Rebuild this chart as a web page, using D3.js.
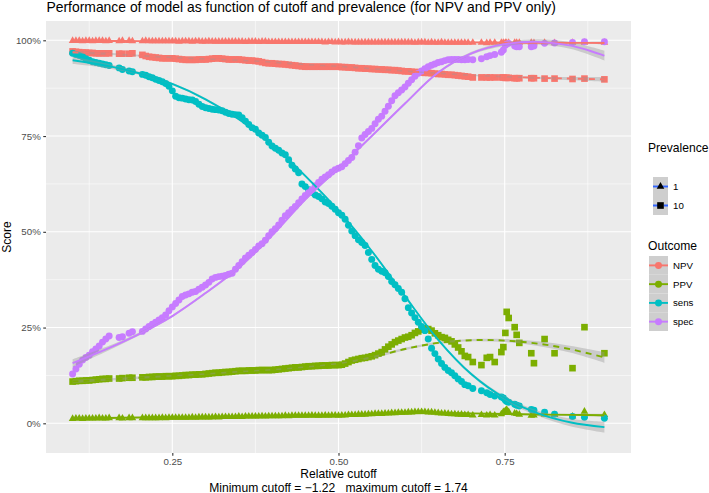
<!DOCTYPE html>
<html>
<head>
<meta charset="utf-8">
<script src="https://cdnjs.cloudflare.com/ajax/libs/d3/7.8.5/d3.min.js"></script>
<style>
body { margin: 0; background: #fff; }
svg { display: block; font-family: "Liberation Sans", Arial, sans-serif; }
</style>
</head>
<body>
<script>
// relative cutoffs shared by every series
var cutoffs = [
	0.100,0.105,0.110,0.115,0.120,0.125,0.130,0.135,0.140,0.145,
	0.150,0.155,0.170,0.175,0.185,0.190,0.205,0.210,0.215,0.220,
	0.225,0.230,0.235,0.240,0.245,0.250,0.255,0.260,0.265,0.270,
	0.275,0.280,0.285,0.290,0.295,0.300,0.305,0.310,0.315,0.320,
	0.325,0.330,0.335,0.340,0.345,0.350,0.355,0.360,0.365,0.370,
	0.375,0.380,0.385,0.390,0.395,0.400,0.405,0.410,0.415,0.420,
	0.425,0.430,0.435,0.440,0.445,0.450,0.455,0.460,0.465,0.470,
	0.475,0.480,0.485,0.490,0.495,0.500,0.505,0.510,0.515,0.520,
	0.525,0.530,0.535,0.540,0.545,0.550,0.555,0.560,0.565,0.570,
	0.575,0.580,0.585,0.590,0.595,0.600,0.605,0.610,0.615,0.620,
	0.625,0.630,0.635,0.640,0.645,0.650,0.655,0.660,0.665,0.670,
	0.675,0.680,0.685,0.690,
	0.695,0.702,0.715,0.723,0.728,0.735,0.745,0.748,0.751,0.753,
	0.756,0.765,0.768,0.772,0.790,0.794,0.810,0.825,0.852,0.870,
	0.900
];

// scores in percent
var npv1 = [
	99.9,99.9,99.9,99.8,99.9,99.9,99.8,99.9,99.9,99.9,
	99.8,99.9,99.8,99.9,99.9,99.8,99.8,99.9,99.8,99.8,
	99.8,99.8,99.8,99.8,99.8,99.8,99.8,99.7,99.8,99.8,
	99.8,99.7,99.8,99.8,99.7,99.7,99.8,99.7,99.7,99.7,
	99.7,99.7,99.7,99.7,99.7,99.7,99.7,99.6,99.7,99.7,
	99.7,99.6,99.7,99.7,99.6,99.6,99.6,99.6,99.6,99.6,
	99.6,99.6,99.6,99.6,99.6,99.6,99.6,99.6,99.6,99.6,
	99.6,99.5,99.6,99.6,99.5,99.6,99.5,99.5,99.6,99.5,
	99.5,99.5,99.5,99.5,99.5,99.5,99.5,99.5,99.5,99.5,
	99.5,99.5,99.5,99.5,99.5,99.5,99.5,99.5,99.4,99.5,
	99.5,99.5,99.4,99.5,99.4,99.4,99.5,99.4,99.4,99.4,
	99.4,99.4,99.4,99.4,
	99.4,99.4,99.4,99.3,99.4,99.4,99.4,99.4,99.4,99.3,
	99.4,99.4,99.4,99.4,99.4,99.3,99.4,99.3,99.4,99.4,
	99.4
];
var npv10 = [
	97.1,97.0,96.9,96.8,96.8,96.7,96.7,96.6,96.6,96.6,
	96.6,96.6,96.5,96.5,96.5,96.6,96.2,95.9,95.7,95.6,
	95.5,95.4,95.3,95.3,95.3,95.3,95.2,95.1,95.0,94.9,
	94.9,94.9,94.9,95.0,95.0,95.0,95.1,95.2,95.3,95.3,
	95.2,95.1,95.0,95.0,95.0,95.0,94.9,94.8,94.7,94.7,
	94.6,94.5,94.3,94.1,94.0,94.0,93.9,93.8,93.8,93.7,
	93.6,93.5,93.4,93.3,93.2,93.1,93.1,93.1,93.1,93.1,
	93.1,93.1,93.1,93.1,93.1,93.1,93.0,93.0,92.9,92.9,
	92.8,92.7,92.7,92.6,92.6,92.5,92.5,92.4,92.4,92.3,
	92.3,92.2,92.2,92.1,92.0,91.9,91.9,91.8,91.7,91.7,
	91.6,91.5,91.5,91.4,91.3,91.2,91.2,91.1,91.0,91.0,
	90.9,90.8,90.7,90.6,
	90.5,90.3,90.3,90.3,90.3,90.3,90.3,90.3,90.2,90.2,
	90.2,90.1,90.1,90.1,90.1,90.1,90.0,90.0,89.9,90.0,
	89.8
];
var ppv1 = [
	1.2,1.3,1.3,1.2,1.3,1.3,1.3,1.3,1.4,1.3,
	1.3,1.4,1.4,1.3,1.4,1.4,1.4,1.4,1.4,1.4,
	1.4,1.4,1.5,1.4,1.5,1.5,1.5,1.5,1.5,1.5,
	1.5,1.6,1.5,1.6,1.6,1.6,1.6,1.6,1.7,1.6,
	1.7,1.7,1.7,1.7,1.7,1.8,1.7,1.8,1.8,1.8,
	1.8,1.8,1.9,1.8,1.9,1.9,1.9,1.9,1.9,2.0,
	1.9,2.0,2.0,2.0,2.0,2.0,2.0,2.1,2.0,2.0,
	2.0,2.1,2.0,2.1,2.1,2.0,2.1,2.1,2.2,2.2,
	2.2,2.3,2.3,2.3,2.4,2.4,2.5,2.5,2.5,2.6,
	2.6,2.7,2.7,2.8,2.8,2.8,2.9,2.9,3.0,3.0,
	3.0,3.0,2.9,2.9,2.8,2.7,2.6,2.6,2.5,2.4,
	2.4,2.3,2.3,2.2,
	2.2,2.1,2.2,2.1,2.2,2.1,2.4,3.0,3.3,3.6,
	3.0,2.6,2.5,2.3,2.0,2.1,2.3,2.2,1.8,3.1,
	2.2
];
var ppv10 = [
	10.9,11.0,11.1,11.1,11.2,11.2,11.3,11.4,11.5,11.6,
	11.6,11.7,11.7,11.8,11.9,11.9,12.0,12.0,12.1,12.1,
	12.2,12.2,12.2,12.3,12.3,12.3,12.4,12.4,12.5,12.6,
	12.6,12.7,12.7,12.8,12.8,12.9,13.0,13.1,13.2,13.2,
	13.3,13.4,13.4,13.5,13.6,13.7,13.7,13.7,13.8,13.8,
	13.8,13.9,13.9,13.9,13.9,13.9,14.0,14.1,14.2,14.3,
	14.4,14.5,14.6,14.6,14.7,14.8,14.9,14.9,15.0,15.0,
	15.1,15.1,15.1,15.2,15.2,15.2,15.3,15.6,16.0,16.4,
	16.6,16.8,17.0,17.1,17.3,17.5,17.8,18.2,18.6,19.3,
	20.0,20.6,21.2,21.6,22.0,22.4,22.6,23.0,23.6,24.0,
	24.5,24.8,24.6,24.2,23.5,23.0,22.5,22.3,21.8,21.4,
	20.6,19.8,18.8,17.6,
	17.3,16.0,15.2,17.1,17.3,16.0,18.6,19.9,23.6,29.1,
	27.5,25.1,23.1,21.0,18.3,15.7,22.0,18.3,14.4,25.1,
	18.3
];
var sens = [
	96.6,96.3,96.0,95.7,95.2,94.8,94.4,94.2,94.0,93.8,
	93.6,93.4,92.8,92.4,92.0,91.8,91.1,90.9,90.5,90.2,
	89.8,89.5,89.2,88.7,88.0,86.8,85.4,85.0,84.9,84.7,
	84.5,84.4,84.0,83.3,82.7,82.4,82.2,82.0,81.9,81.8,
	81.6,81.2,80.9,80.7,80.6,80.5,79.8,78.9,78.0,77.2,
	76.8,75.8,75.2,74.6,73.4,72.4,71.8,71.3,70.6,70.1,
	68.8,67.4,66.4,65.4,62.5,61.8,61.0,60.3,59.6,59.2,
	58.6,57.8,57.4,56.7,55.9,55.0,54.3,53.3,51.7,50.2,
	49.0,47.9,47.2,46.4,44.6,42.8,41.2,40.2,39.7,39.3,
	38.3,37.0,36.2,35.2,34.2,32.5,30.2,28.8,27.6,26.4,
	25.3,24.2,22.0,19.6,18.2,16.8,15.6,14.6,13.8,13.2,
	12.4,11.6,10.9,10.1,
	9.8,9.1,8.5,8.0,7.5,7.1,6.9,6.6,6.0,5.7,
	5.5,5.0,4.7,4.5,3.6,3.4,2.9,2.4,1.8,1.6,
	1.3
];
var spec = [
	12.9,14.2,15.4,16.5,17.2,17.8,18.7,19.4,20.2,21.2,
	22.0,22.8,22.4,22.6,23.5,23.9,24.0,24.6,25.3,25.9,
	26.4,27.0,27.6,28.3,29.4,30.4,31.3,32.2,33.1,33.5,
	33.8,34.2,34.4,35.0,35.5,36.1,36.8,37.7,38.1,38.3,
	38.4,38.6,38.9,39.2,40.2,41.2,42.2,43.2,43.9,44.6,
	45.4,46.3,46.9,47.8,49.0,50.0,50.8,51.8,53.0,54.2,
	55.0,55.8,56.6,57.6,58.6,59.5,60.2,61.0,62.0,62.9,
	63.7,64.3,64.9,65.6,66.2,66.6,67.0,67.8,68.6,69.4,
	70.8,72.5,74.5,75.4,76.2,77.0,78.2,79.4,80.2,81.5,
	82.8,84.2,85.5,86.3,87.0,87.8,88.8,89.7,90.6,91.4,
	92.0,92.6,93.1,93.5,93.8,94.2,94.4,94.7,94.9,95.0,
	95.0,95.0,94.9,94.9,
	95.0,94.9,95.2,95.7,96.0,96.3,96.9,97.5,98.7,99.0,
	99.2,98.5,98.3,98.3,98.3,98.5,99.2,99.3,99.4,99.6,
	99.6
];

// smoothed fits (loess) and their standard error half widths, in percent
var fitCutoffs = [0.10,0.15,0.20,0.25,0.30,0.35,0.40,0.45,0.50,0.55,0.60,0.65,0.70,0.75,0.80,0.85,0.90];
var fitNpv1  = [99.85,99.82,99.79,99.76,99.73,99.70,99.67,99.64,99.60,99.56,99.52,99.48,99.45,99.40,99.36,99.33,99.30];
var fitNpv10 = [96.9,96.5,96.0,95.5,95.1,94.8,94.3,93.7,93.2,92.6,92.0,91.4,90.9,90.5,90.2,90.0,89.8];
var fitPpv1  = [1.3,1.4,1.5,1.6,1.65,1.75,1.85,2.0,2.1,2.35,2.6,2.7,2.6,2.45,2.3,2.2,2.1];
var fitPpv10 = [10.9,11.4,11.9,12.4,12.9,13.5,14.0,14.7,15.6,17.2,19.4,21.0,21.7,21.6,20.8,19.3,17.2];
var fitSens  = [94.8,93.4,91.4,88.6,84.6,79.4,72.8,64.6,55.5,45.0,33.2,21.8,12.8,6.6,2.6,0.2,-1.0];
var fitSpec  = [15.7,19.3,23.3,28.0,34.0,40.6,49.0,58.4,66.6,75.0,83.5,91.6,96.6,99.0,99.6,98.6,96.0];
var seNpv1   = [0.2,0.1,0.1,0.1,0.1,0.1,0.1,0.1,0.1,0.1,0.1,0.1,0.1,0.1,0.2,0.2,0.3];
var seNpv10  = [0.4,0.3,0.2,0.2,0.2,0.2,0.2,0.2,0.2,0.2,0.2,0.2,0.2,0.2,0.3,0.4,0.6];
var sePpv1   = [0.2,0.1,0.1,0.1,0.1,0.1,0.1,0.1,0.1,0.1,0.1,0.1,0.1,0.2,0.2,0.3,0.4];
var sePpv10  = [0.5,0.3,0.3,0.2,0.2,0.2,0.2,0.2,0.2,0.3,0.3,0.3,0.3,0.4,0.6,0.9,1.4];
var seSens   = [1.0,0.6,0.4,0.3,0.3,0.3,0.3,0.3,0.3,0.3,0.3,0.3,0.4,0.5,0.7,1.0,1.4];
var seSpec   = [1.0,0.6,0.4,0.3,0.3,0.3,0.3,0.3,0.3,0.3,0.3,0.3,0.4,0.5,0.7,0.9,1.3];

var xTicks = [0.25, 0.50, 0.75];
var xMinor = [0.125, 0.375, 0.625, 0.875];
var yTicks = [0, 25, 50, 75, 100];
var yMinor = [12.5, 37.5, 62.5, 87.5];

var outcomes = ['NPV', 'PPV', 'sens', 'spec'];
var prevalences = ['1', '10'];
var colours = {NPV: '#F8766D', PPV: '#7CAE00', sens: '#00BFC4', spec: '#C77CFF'};

var series = [
	{outcome: 'NPV',  prev: '1',  values: npv1,  fit: fitNpv1,  se: seNpv1},
	{outcome: 'NPV',  prev: '10', values: npv10, fit: fitNpv10, se: seNpv10},
	{outcome: 'PPV',  prev: '1',  values: ppv1,  fit: fitPpv1,  se: sePpv1},
	{outcome: 'PPV',  prev: '10', values: ppv10, fit: fitPpv10, se: sePpv10},
	{outcome: 'sens', prev: null, values: sens,  fit: fitSens,  se: seSens},
	{outcome: 'spec', prev: null, values: spec,  fit: fitSpec,  se: seSpec}
];

var width = 709, height = 493;
var panelLeft = 46, panelRight = 631, panelTop = 21, panelBottom = 453;
var font = '"Liberation Sans", Arial, sans-serif';

var x = d3.scaleLinear().domain([0.06, 0.94]).range([panelLeft, panelRight]);
var y = d3.scaleLinear().domain([-7.75, 105.04]).range([panelBottom, panelTop]);

var triangle = d3.symbol().type(d3.symbolTriangle).size(25);
var square = d3.symbol().type(d3.symbolSquare).size(44);
var circle = d3.symbol().type(d3.symbolCircle).size(38);

function shapeFor(prev){
	if(prev === '1') return triangle();
	if(prev === '10') return square();
	return circle();
}

var svg = d3.select('body')
.append('svg')
.attr('width', width)
.attr('height', height);

svg.append('rect')
.attr('width', width)
.attr('height', height)
.attr('fill', '#fff');

// panel
svg.append('rect')
.attr('x', panelLeft)
.attr('y', panelTop)
.attr('width', panelRight - panelLeft)
.attr('height', panelBottom - panelTop)
.attr('fill', '#EBEBEB');

var grid = svg.append('g');

function vLines(values, w){
	grid.append('g')
	.selectAll('line')
	.data(values)
	.enter().append('line')
	.attr('x1', function(d){ return x(d); })
	.attr('x2', function(d){ return x(d); })
	.attr('y1', panelTop)
	.attr('y2', panelBottom)
	.attr('stroke', '#fff')
	.attr('stroke-width', w);
}

function hLines(values, w){
	grid.append('g')
	.selectAll('line')
	.data(values)
	.enter().append('line')
	.attr('x1', panelLeft)
	.attr('x2', panelRight)
	.attr('y1', function(d){ return y(d); })
	.attr('y2', function(d){ return y(d); })
	.attr('stroke', '#fff')
	.attr('stroke-width', w);
}

vLines(xMinor, 0.55);
hLines(yMinor, 0.55);
vLines(xTicks, 1.1);
hLines(yTicks, 1.1);

// points
var pointsGroup = svg.append('g');
series.forEach(function(s){
	pointsGroup.append('g')
	.selectAll('path')
	.data(d3.zip(cutoffs, s.values))
	.enter().append('path')
	.attr('d', shapeFor(s.prev))
	.attr('transform', function(d){ return 'translate(' + x(d[0]) + ',' + y(d[1]) + ')'; })
	.attr('fill', colours[s.outcome]);
});

// smooth ribbons, then smooth lines
var ribbon = d3.area()
.x(function(d){ return x(d[0]); })
.y0(function(d){ return y(d[1] - d[2]); })
.y1(function(d){ return y(d[1] + d[2]); })
.curve(d3.curveCatmullRom);

var fitLine = d3.line()
.x(function(d){ return x(d[0]); })
.y(function(d){ return y(d[1]); })
.curve(d3.curveCatmullRom);

var smoothGroup = svg.append('g');
series.forEach(function(s){
	smoothGroup.append('path')
	.attr('d', ribbon(d3.zip(fitCutoffs, s.fit, s.se)))
	.attr('fill', '#999999')
	.attr('fill-opacity', 0.4);
});
series.forEach(function(s){
	smoothGroup.append('path')
	.attr('d', fitLine(d3.zip(fitCutoffs, s.fit)))
	.attr('fill', 'none')
	.attr('stroke', colours[s.outcome])
	.attr('stroke-width', 1.9)
	.attr('stroke-dasharray', s.prev === '10' ? '6,5' : null);
});

// axes
var xAxis = svg.append('g')
.attr('transform', 'translate(0,' + panelBottom + ')')
.call(d3.axisBottom(x).tickValues(xTicks).tickFormat(d3.format('.2f')).tickSize(2.75).tickPadding(2.5));

var yAxis = svg.append('g')
.attr('transform', 'translate(' + panelLeft + ',0)')
.call(d3.axisLeft(y).tickValues(yTicks).tickFormat(function(d){ return d + '%'; }).tickSize(2.75).tickPadding(2.5));

[xAxis, yAxis].forEach(function(axis){
	axis.select('.domain').remove();
	axis.selectAll('.tick line').attr('stroke', '#333333').attr('stroke-width', 1.1);
	axis.selectAll('.tick text')
	.attr('fill', '#4D4D4D')
	.style('font-size', '9.7px')
	.style('font-family', font);
});

svg.append('text')
.attr('x', 46.5)
.attr('y', 11.8)
.style('font-size', '13.9px')
.text('Performance of model as function of cutoff and prevalence (for NPV and PPV only)');

svg.append('text')
.attr('x', (panelLeft + panelRight) / 2)
.attr('y', 477.5)
.attr('text-anchor', 'middle')
.style('font-size', '12.1px')
.text('Relative cutoff');

svg.append('text')
.attr('x', (panelLeft + panelRight) / 2)
.attr('y', 491.5)
.attr('text-anchor', 'middle')
.style('font-size', '12.1px')
.attr('xml:space', 'preserve')
.text('Minimum cutoff = \u22121.22   maximum cutoff = 1.74');

svg.append('text')
.attr('transform', 'translate(10.5,' + ((panelTop + panelBottom) / 2) + ') rotate(-90)')
.attr('text-anchor', 'middle')
.style('font-size', '12.1px')
.text('Score');

// legends
var legend = svg.append('g');

legend.append('text')
.attr('x', 648)
.attr('y', 151.5)
.style('font-size', '12.1px')
.text('Prevalence');

var prevKeys = legend.selectAll('.prev-key')
.data(prevalences)
.enter().append('g')
.attr('transform', function(d, i){ return 'translate(653,' + (177 + i * 19) + ')'; });

prevKeys.append('rect')
.attr('width', 15)
.attr('height', 19)
.attr('fill', '#CECECE');

prevKeys.append('line')
.attr('x1', 0)
.attr('x2', 15)
.attr('y1', 9.5)
.attr('y2', 9.5)
.attr('stroke', '#3366FF')
.attr('stroke-width', 1.9)
.attr('stroke-dasharray', function(d){ return d === '10' ? '6,5' : null; });

prevKeys.append('path')
.attr('d', function(d){ return shapeFor(d); })
.attr('transform', 'translate(7.5,9.5)')
.attr('fill', '#000');

prevKeys.append('text')
.attr('x', 20)
.attr('y', 13)
.style('font-size', '9.7px')
.text(function(d){ return d; });

legend.append('text')
.attr('x', 648)
.attr('y', 249.5)
.style('font-size', '12.1px')
.text('Outcome');

var outcomeKeys = legend.selectAll('.outcome-key')
.data(outcomes)
.enter().append('g')
.attr('transform', function(d, i){ return 'translate(649,' + (256 + i * 18.75) + ')'; });

outcomeKeys.append('rect')
.attr('width', 19)
.attr('height', 18.75)
.attr('fill', '#CECECE');

outcomeKeys.append('line')
.attr('x1', 0)
.attr('x2', 19)
.attr('y1', 9.4)
.attr('y2', 9.4)
.attr('stroke', function(d){ return colours[d]; })
.attr('stroke-width', 1.9);

outcomeKeys.append('path')
.attr('d', circle())
.attr('transform', 'translate(9.5,9.4)')
.attr('fill', function(d){ return colours[d]; });

outcomeKeys.append('text')
.attr('x', 24)
.attr('y', 12.8)
.style('font-size', '9.7px')
.text(function(d){ return d; });
</script>
</body>
</html>
